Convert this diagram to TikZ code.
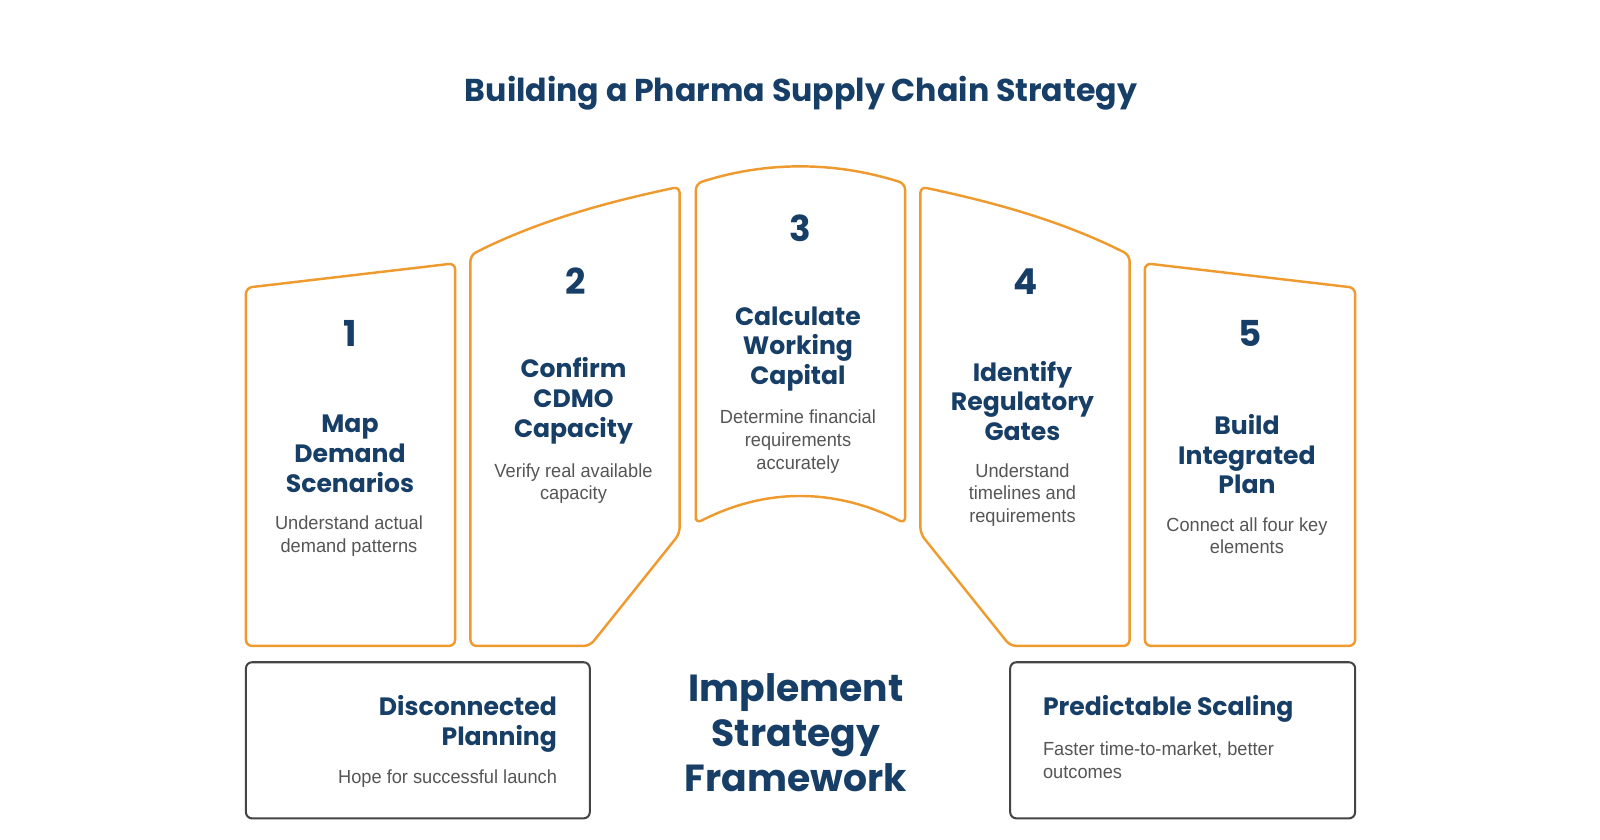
\documentclass[tikz,border=0pt]{standalone}
\usepackage{fontspec}
\setmainfont{Liberation Sans}[FakeStretch=0.96]
\newfontfamily\hf{Poppins}
\definecolor{navy}{HTML}{173E66}
\definecolor{orng}{HTML}{EE9A2E}
\definecolor{txtg}{HTML}{555555}
\definecolor{boxg}{HTML}{444444}
\begin{document}
\begin{tikzpicture}[x=1pt,y=-1pt,
  panel/.style={draw=orng,line width=2.4pt,rounded corners=6pt,line join=round},
  lowbox/.style={draw=boxg,line width=2pt,rounded corners=6pt},
  num/.style={text=navy,font=\hf\bfseries\fontsize{35}{38}\selectfont,inner sep=0pt},
  head/.style={text=navy,font=\hf\bfseries\fontsize{24.6}{29.3}\selectfont,align=center,inner sep=0pt},
  desc/.style={text=txtg,font=\fontsize{18.6}{22.3}\selectfont,align=center,inner sep=0pt},
]
\useasboundingbox (0,0) rectangle (1568,823.2);
% title
\node[text=navy,font=\hf\bfseries\fontsize{31}{36}\selectfont,inner sep=0pt] (title) at (785,91) {Building a Pharma Supply Chain Strategy};
% panels
\draw[panel] (241,633) -- (241,282) -- (446,258) -- (446,633) -- cycle;
\draw[panel] (461,633) -- (461,250) .. controls (530,215) and (600,197) .. (666,183) -- (666,523) -- (578,633) -- cycle;
\draw[panel] (682,513) -- (682,180) .. controls (750,158) and (818,158) .. (887,180) -- (887,513) .. controls (818,478) and (750,478) .. (682,513) -- cycle;
\draw[panel] (1107,633) -- (1107,250) .. controls (1038,215) and (968,197) .. (902,183) -- (902,523) -- (990,633) -- cycle;
\draw[panel] (1328,633) -- (1328,282) -- (1122,258) -- (1122,633) -- cycle;
% numbers
\node[num] (n1) at (343,327) {1};
\node[num] (n2) at (564,276) {2};
\node[num] (n3) at (784,224) {3};
\node[num] (n4) at (1005,276) {4};
\node[num] (n5) at (1225,327) {5};
% headings
\node[head] (h1) at (343,445) {Map\\Demand\\Scenarios};
\node[head] (h2) at (562,393) {Confirm\\CDMO\\Capacity};
\node[head] (h3) at (782,342) {Calculate\\Working\\Capital};
\node[head] (h4) at (1002,393) {Identify\\Regulatory\\Gates};
\node[head] (h5) at (1222,445) {Build\\Integrated\\Plan};
% descriptions
\node[desc] (d1) at (342,525) {Understand actual\\demand patterns};
\node[desc] (d2) at (562,474) {Verify real available\\capacity};
\node[desc] (d3) at (782,433) {Determine financial\\requirements\\accurately};
\node[desc] (d4) at (1002,485) {Understand\\timelines and\\requirements};
\node[desc] (d5) at (1222,525) {Connect all four key\\elements};
% bottom boxes
\draw[lowbox] (241,649) rectangle (578,802);
\draw[lowbox] (990,649) rectangle (1328,802);
\node[head,align=right,anchor=east] (bl) at (546,709) {Disconnected\\Planning};
\node[desc,align=right,anchor=east] (bld) at (546,763) {Hope for successful launch};
\node[head,align=left,anchor=west] (br) at (1022,695) {Predictable Scaling};
\node[desc,align=left,anchor=west] (brd) at (1022,745) {Faster time-to-market, better\\outcomes};
% center
\node[text=navy,font=\hf\bfseries\fontsize{37}{44.5}\selectfont,align=center,inner sep=0pt] (center) at (780,718) {Implement\\Strategy\\Framework};
\end{tikzpicture}
\end{document}
